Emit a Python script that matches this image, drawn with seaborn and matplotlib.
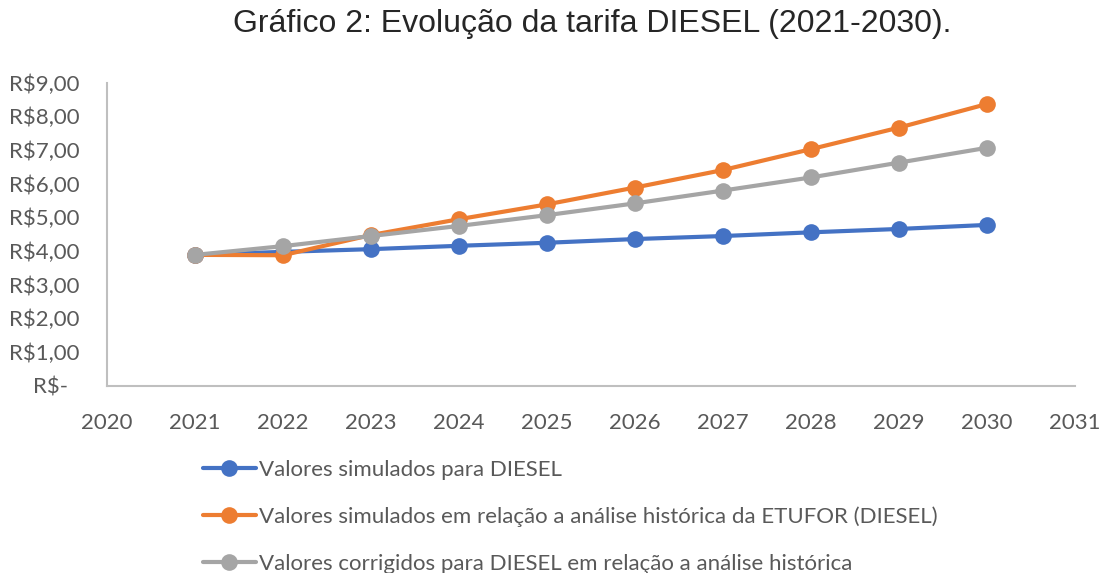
import pandas as pd
import matplotlib.pyplot as plt
import seaborn as sns

# Data
anos = [2021, 2022, 2023, 2024, 2025, 2026, 2027, 2028, 2029, 2030]
simulados = [3.88, 3.97, 4.05, 4.15, 4.24, 4.35, 4.44, 4.55, 4.65, 4.77]
simulados_etufor = [3.88, 3.87, 4.47, 4.94, 5.38, 5.88, 6.40, 7.02, 7.66, 8.36]
corrigidos = [3.88, 4.14, 4.44, 4.74, 5.06, 5.41, 5.79, 6.18, 6.62, 7.06]

series = [
    "Valores simulados para DIESEL",
    "Valores simulados em relação a análise histórica da ETUFOR (DIESEL)",
    "Valores corrigidos para DIESEL em relação a análise histórica",
]
cores = ["#4472C4", "#ED7D31", "#A5A5A5"]

df = pd.DataFrame({
    "ano": anos * 3,
    "valor": simulados + simulados_etufor + corrigidos,
    "serie": [series[0]] * 10 + [series[1]] * 10 + [series[2]] * 10,
})

sns.set_style("white")
plt.rcParams["font.family"] = ["Lato", "DejaVu Sans"]

fig = plt.figure(figsize=(11.01, 5.73), dpi=100)
ax = fig.add_axes([0.0972, 0.3272, 0.879, 0.5288])

sns.lineplot(data=df, x="ano", y="valor", hue="serie", palette=cores,
             marker="o", markersize=12, markeredgewidth=0, linewidth=3,
             ax=ax, legend=True)

ax.set_xlim(2020, 2031)
ax.set_ylim(0, 9)
ax.set_xticks(range(2020, 2032))
ax.set_yticks(range(0, 10))
# Excel accounting format: the zero label sits a bit left of the others
ax.set_yticklabels(["R$-  "] + [f"R${v},00" for v in range(1, 10)])
ax.set_xlabel("")
ax.set_ylabel("")

for s in ["top", "right"]:
    ax.spines[s].set_visible(False)
for s in ["left", "bottom"]:
    ax.spines[s].set_color("#BFBFBF")
    ax.spines[s].set_linewidth(1.5)
ax.tick_params(axis="both", length=0, labelsize=16, colors="#595959")
ax.tick_params(axis="x", pad=20)
ax.tick_params(axis="y", pad=20)

fig.suptitle("Gráfico 2: Evolução da tarifa DIESEL (2021-2030).",
             x=0.538, y=0.985, fontsize=23, family="Liberation Sans")

handles, labels = ax.get_legend_handles_labels()
ax.legend(handles, labels, loc="upper left", bbox_to_anchor=(0.176, 0.213),
          bbox_transform=fig.transFigure, frameon=False, fontsize=16,
          labelcolor="#595959", handlelength=2.4, handletextpad=0.15,
          labelspacing=1.2, borderaxespad=0)

fig.savefig("out.png", dpi=100)
